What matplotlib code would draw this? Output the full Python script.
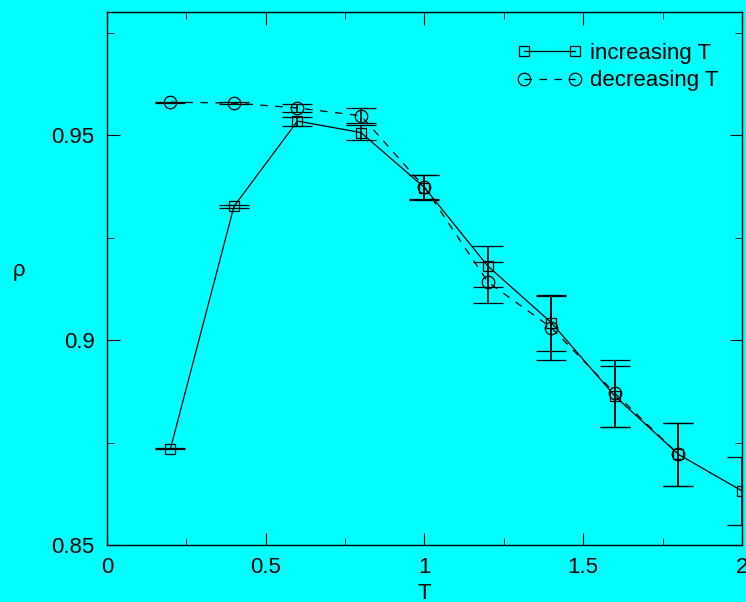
import matplotlib
matplotlib.use("Agg")
import matplotlib.pyplot as plt
from matplotlib.lines import Line2D
from matplotlib.ticker import MultipleLocator, FormatStrFormatter

# data
T_inc = [0.2, 0.4, 0.6, 0.8, 1.0, 1.2, 1.4, 1.6, 1.8, 2.0]
rho_inc = [0.8735, 0.9326, 0.9534, 0.9506, 0.9372, 0.9180, 0.9042, 0.8863, 0.8721, 0.8632]
err_inc = [0.0001, 0.0003, 0.0011, 0.0019, 0.0031, 0.0050, 0.0069, 0.0074, 0.0077, 0.0083]

T_dec = [0.2, 0.4, 0.6, 0.8, 1.0, 1.2, 1.4, 1.6, 1.8]
rho_dec = [0.9580, 0.9578, 0.9566, 0.9547, 0.9373, 0.9141, 0.9030, 0.8870, 0.8721]
err_dec = [0.0001, 0.0002, 0.0010, 0.0018, 0.0030, 0.0050, 0.0078, 0.0081, 0.0077]

CYAN = "#00ffff"
FS = 16
plt.rcParams['font.family'] = ['Liberation Sans', 'DejaVu Sans']

fig = plt.figure(figsize=(7.46, 6.02), dpi=100, facecolor=CYAN)
ax = fig.add_axes([0.1434, 0.0947, 0.8512, 0.8853])
ax.set_facecolor(CYAN)

inc_style = dict(color='black', lw=0.9, marker='s', ms=7, mfc='none', mec='black', mew=0.9)
dec_style = dict(color='black', lw=0.9, ls=(0, (6, 6)), marker='o', ms=9, mfc='none',
                 mec='black', mew=0.9)

ax.errorbar(T_inc, rho_inc, yerr=err_inc, capsize=11, elinewidth=1.2, capthick=1.2,
            **inc_style)
ax.errorbar(T_dec, rho_dec, yerr=err_dec, capsize=11, elinewidth=1.2, capthick=1.2,
            **dec_style)

ax.set_xlim(0, 2)
ax.set_ylim(0.85, 0.98)
ax.xaxis.set_major_locator(MultipleLocator(0.5))
ax.xaxis.set_minor_locator(MultipleLocator(0.25))
ax.yaxis.set_major_locator(MultipleLocator(0.05))
ax.yaxis.set_minor_locator(MultipleLocator(0.025))
ax.xaxis.set_major_formatter(FormatStrFormatter('%g'))
ax.yaxis.set_major_formatter(FormatStrFormatter('%g'))
ax.tick_params(which='both', direction='in', top=True, right=True, labelsize=FS)
ax.tick_params(which='major', length=9)
ax.tick_params(which='minor', length=5)
ax.tick_params(axis='x', pad=9)
ax.tick_params(axis='y', pad=9)
for s in ax.spines.values():
    s.set_linewidth(1.0)

ax.set_xlabel('T', fontsize=FS)
ax.set_ylabel('ρ', fontsize=FS, rotation=0)
ax.xaxis.set_label_coords(0.5, -0.072)
ax.yaxis.set_label_coords(-0.138, 0.495)

handles = [Line2D([], [], **inc_style), Line2D([], [], **dec_style)]
ax.legend(handles, ['increasing T', 'decreasing T'], loc='upper right', frameon=False,
          fontsize=FS, numpoints=2, handlelength=2.9, handletextpad=0.4,
          labelspacing=0.3, bbox_to_anchor=(0.995, 0.98))

fig.savefig('out.png', dpi=100, facecolor=CYAN)
